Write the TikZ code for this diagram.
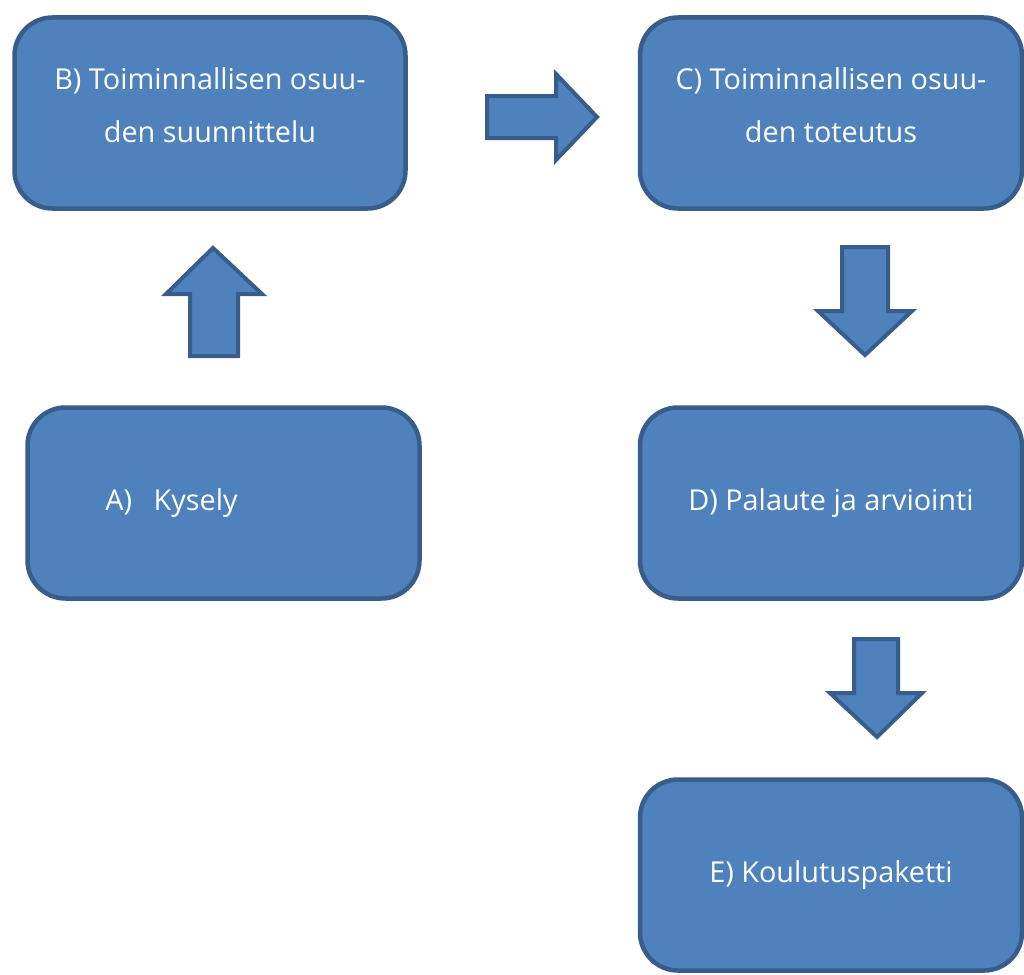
\documentclass[tikz,border=0pt]{standalone}
\usepackage{fontspec}
\setmainfont{Open Sans}
\usetikzlibrary{positioning}

\definecolor{boxfill}{HTML}{4F81BD}
\definecolor{boxline}{HTML}{385D8A}

\tikzset{
  stage/.style={draw=boxline, fill=boxfill, line width=4.5pt, rounded corners=38pt,
    minimum height=191pt, text=white, align=center,
    font=\fontsize{28.8}{53}\selectfont},
  twoline/.style={text depth=15pt},
  fatarrow/.style={draw=boxline, fill=boxfill, line width=4pt, line join=miter}
}

\begin{document}
\begin{tikzpicture}[x=1pt, y=-1pt]
\useasboundingbox (0,0) rectangle (1024,974);

% the five stages
\node[stage, twoline, minimum width=391pt] (B) at (210,113) {B) Toiminnallisen osuu-\\den suunnittelu};
\node[stage, twoline, minimum width=382pt] (C) at (831,113) {C) Toiminnallisen osuu-\\den toteutus};
\node[stage, minimum width=392pt] (A) at (223.5,503) {A)\hspace{0.75em}Kysely\hspace{104pt}};
\node[stage, minimum width=382pt] (D) at (831,503) {D) Palaute ja arviointi};
\node[stage, minimum width=382pt] (E) at (831,875) {E) Koulutuspaketti};

% block arrows between them
\draw[fatarrow] (487,96) -- (556,96) -- (556,74) -- (597,117) -- (556,160) -- (556,138) -- (487,138) -- cycle;
\draw[fatarrow] (190,356) -- (190,294) -- (166,294) -- (213,248) -- (262,294) -- (238,294) -- (238,356) -- cycle;
\draw[fatarrow] (842,247) -- (888,247) -- (888,311) -- (912,311) -- (865,355) -- (818,311) -- (842,311) -- cycle;
\draw[fatarrow] (854,639) -- (898,639) -- (898,693) -- (922,693) -- (877,737) -- (830,693) -- (854,693) -- cycle;
\end{tikzpicture}
\end{document}
